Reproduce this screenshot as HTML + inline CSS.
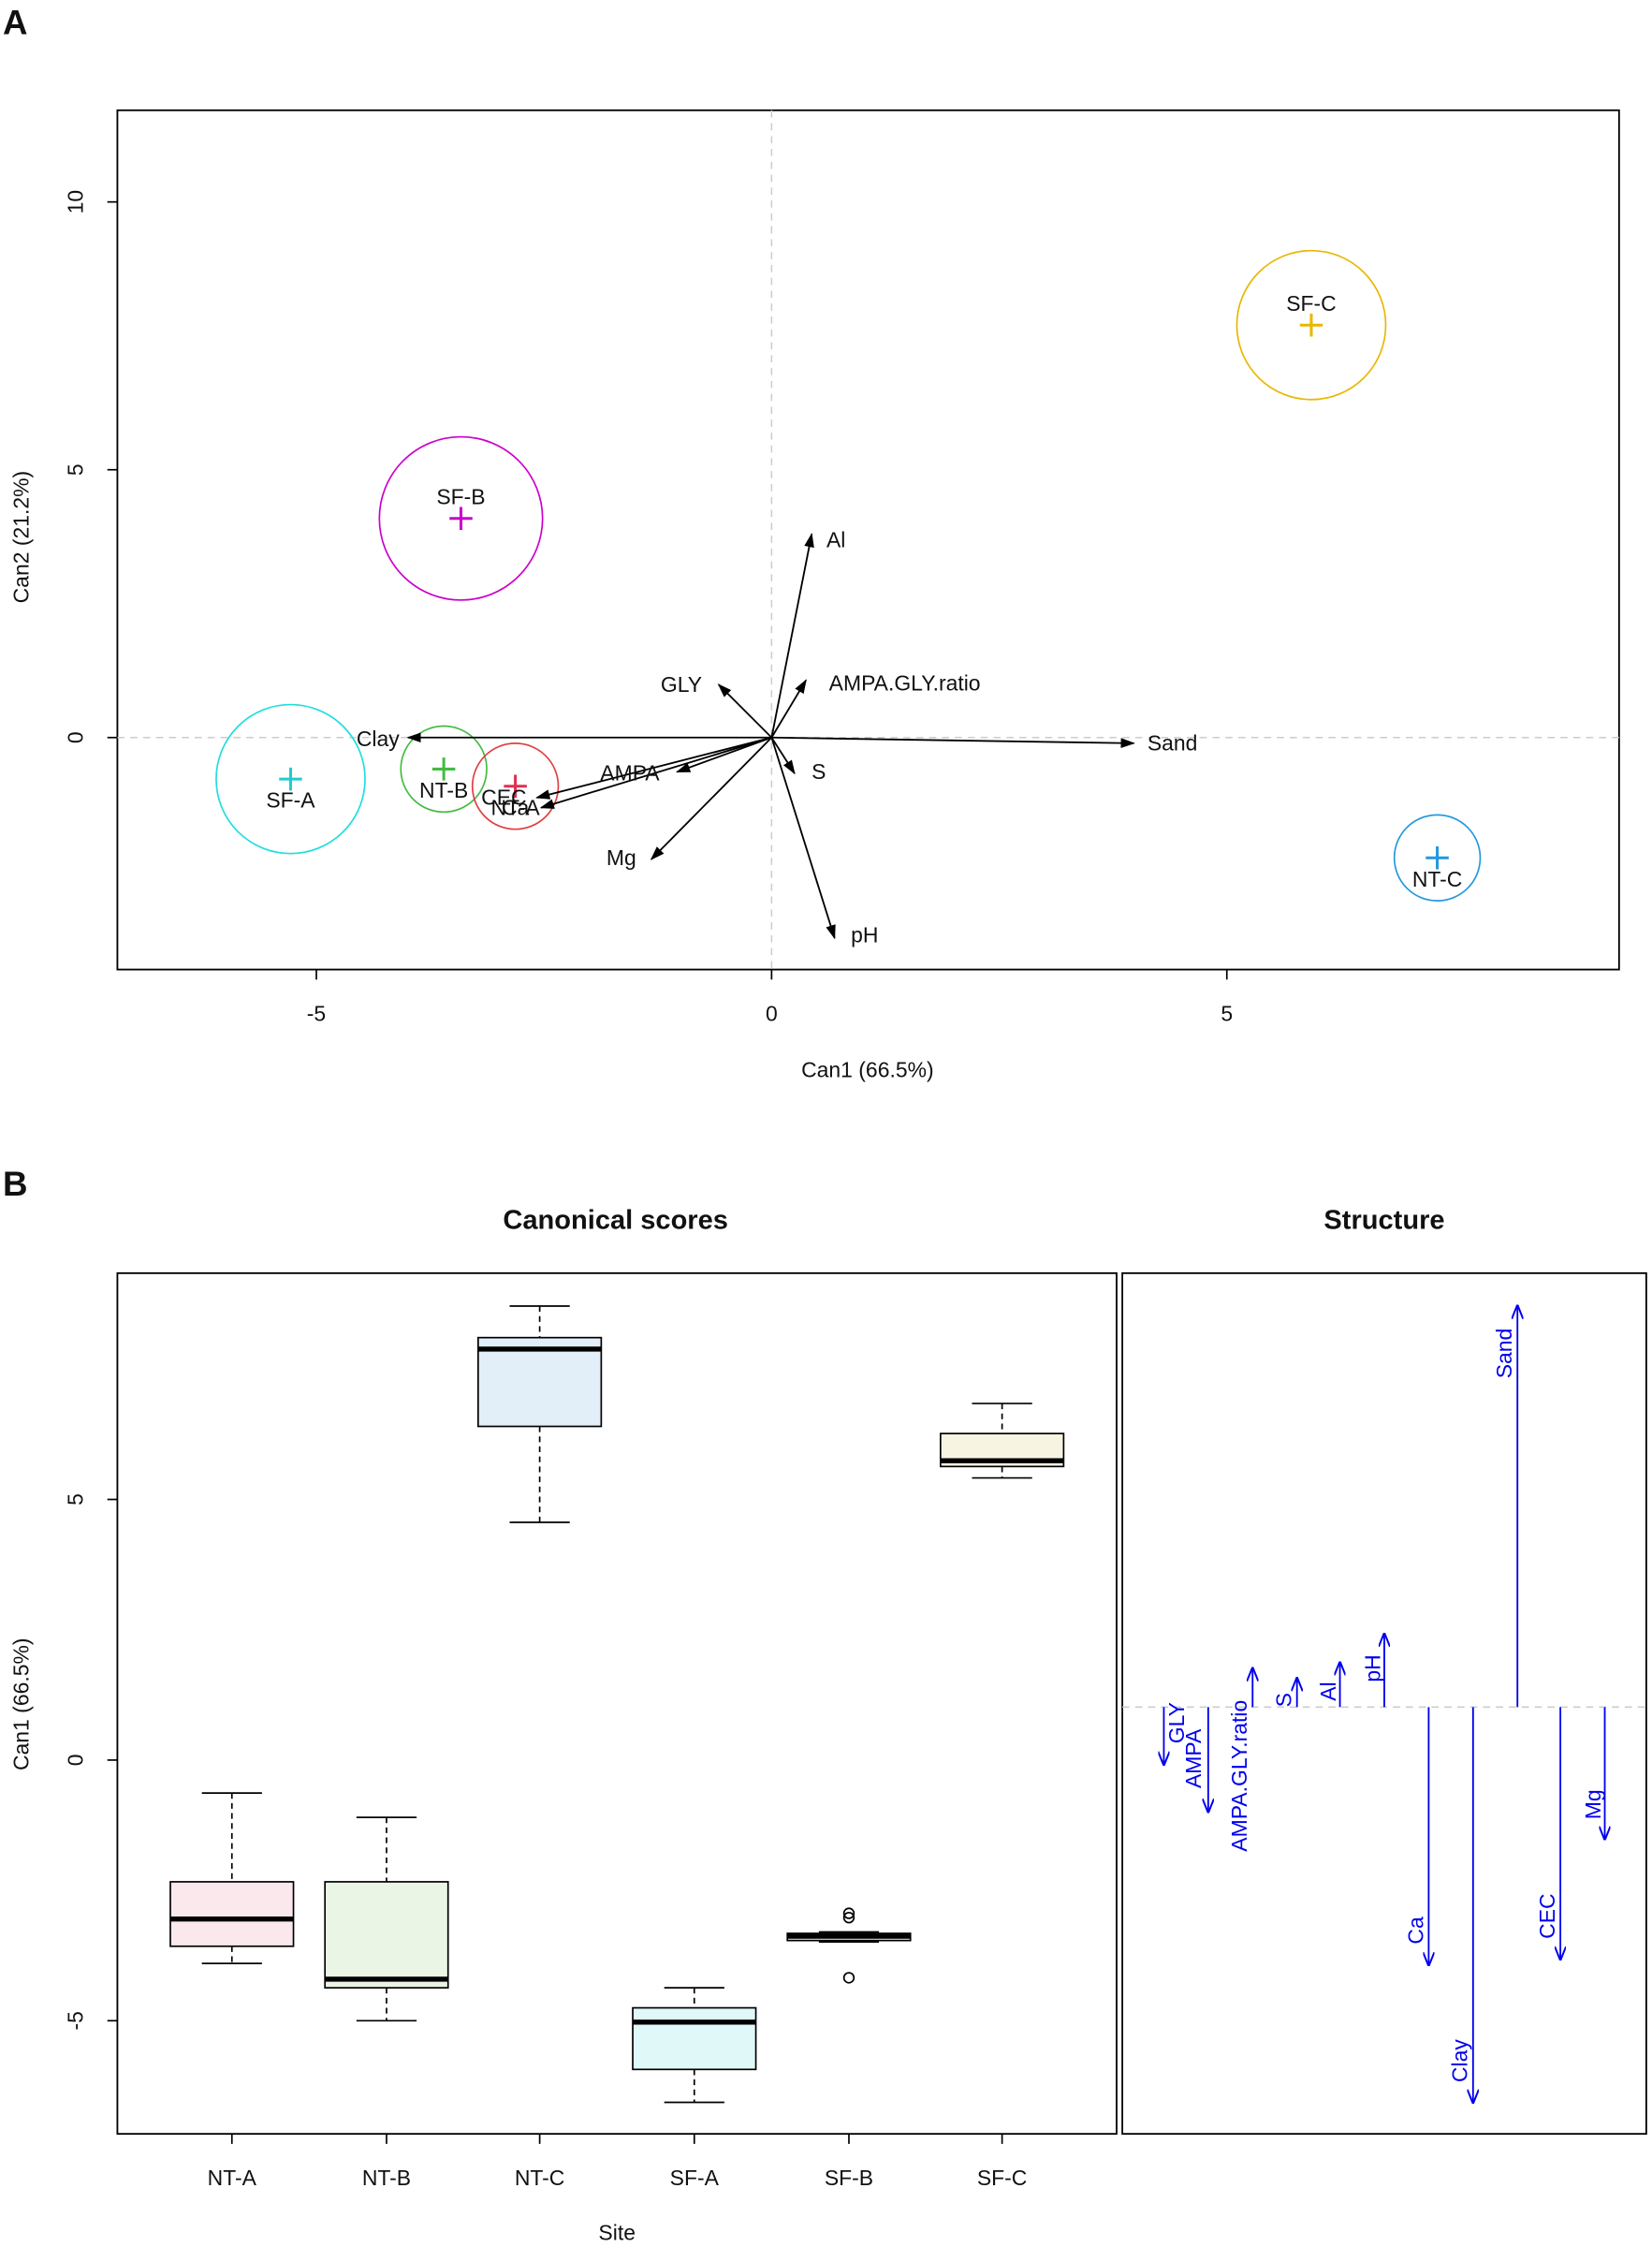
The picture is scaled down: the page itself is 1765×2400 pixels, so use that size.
<!DOCTYPE html>
<html><head><meta charset="utf-8"><style>
html,body{margin:0;padding:0;background:#fff;}
svg{display:block;}
text{font-family:"Liberation Sans",Arial,sans-serif;font-size:15px;fill:#111;}
.b text{fill:#0000ee;}
</style></head><body>
<svg width="1765" height="2400" viewBox="0 0 1154 1569" preserveAspectRatio="none" xmlns="http://www.w3.org/2000/svg">
<defs>
<marker id="ah" markerWidth="10" markerHeight="8" refX="9" refY="4" orient="auto" markerUnits="userSpaceOnUse"><path d="M0,0.5 L10,4 L0,7.5 Z" fill="#000"/></marker>
<marker id="bh" markerWidth="10" markerHeight="8" refX="9" refY="4" orient="auto" markerUnits="userSpaceOnUse"><path d="M0,0 L10,4 L0,8" fill="none" stroke="#0000ee" stroke-width="1.3"/></marker>
</defs>
<text x="2" y="24" style="font-size:24px;font-weight:bold">A</text>
<text x="2" y="835" style="font-size:24px;font-weight:bold">B</text>

<!-- Panel A -->
<rect x="82" y="77" width="1049" height="600" fill="none" stroke="#000" stroke-width="1.2"/>
<line x1="539" y1="77" x2="539" y2="677" stroke="#ccc" stroke-dasharray="5,4"/>
<line x1="82" y1="515" x2="1131" y2="515" stroke="#ccc" stroke-dasharray="5,4"/>
<g stroke="#000" stroke-width="1.1">
<line x1="221" y1="677" x2="221" y2="684"/><line x1="539" y1="677" x2="539" y2="684"/><line x1="857" y1="677" x2="857" y2="684"/>
<line x1="82" y1="515" x2="75" y2="515"/><line x1="82" y1="328" x2="75" y2="328"/><line x1="82" y1="141" x2="75" y2="141"/>
</g>
<text x="221" y="713" text-anchor="middle">-5</text><text x="539" y="713" text-anchor="middle">0</text><text x="857" y="713" text-anchor="middle">5</text>
<text transform="translate(58,515) rotate(-90)" text-anchor="middle">0</text>
<text transform="translate(58,328) rotate(-90)" text-anchor="middle">5</text>
<text transform="translate(58,141) rotate(-90)" text-anchor="middle">10</text>
<text x="606" y="752" text-anchor="middle">Can1 (66.5%)</text>
<text transform="translate(20,375) rotate(-90)" text-anchor="middle">Can2 (21.2%)</text>

<g fill="none" stroke-width="1.1">
<circle cx="916" cy="227" r="52" stroke="#E8B800"/>
<circle cx="322" cy="362" r="57" stroke="#CC00CC"/>
<circle cx="203" cy="544" r="52" stroke="#22DDDD"/>
<circle cx="310" cy="537" r="30" stroke="#44BB44"/>
<circle cx="360" cy="549" r="30" stroke="#E04040"/>
<circle cx="1004" cy="599" r="30" stroke="#2299DD"/>
</g>
<g stroke-width="2">
<path d="M908,227h16M916,219v16" stroke="#E8B800"/>
<path d="M314,362h16M322,354v16" stroke="#CC00CC"/>
<path d="M195,544h16M203,536v16" stroke="#22CCCC"/>
<path d="M302,537h16M310,529v16" stroke="#44BB44"/>
<path d="M352,549h16M360,541v16" stroke="#E03050"/>
<path d="M996,599h16M1004,591v16" stroke="#2299DD"/>
</g>
<text x="916" y="217" text-anchor="middle">SF-C</text>
<text x="322" y="352" text-anchor="middle">SF-B</text>
<text x="203" y="564" text-anchor="middle">SF-A</text>
<text x="310" y="557" text-anchor="middle">NT-B</text>
<text x="360" y="569" text-anchor="middle">NT-A</text>
<text x="1004" y="619" text-anchor="middle">NT-C</text>

<g stroke="#000" stroke-width="1.2" marker-end="url(#ah)">
<line x1="539" y1="515" x2="567" y2="373"/>
<line x1="539" y1="515" x2="563" y2="475"/>
<line x1="539" y1="515" x2="502" y2="478"/>
<line x1="539" y1="515" x2="285" y2="515"/>
<line x1="539" y1="515" x2="792" y2="519"/>
<line x1="539" y1="515" x2="555" y2="540"/>
<line x1="539" y1="515" x2="583" y2="655"/>
<line x1="539" y1="515" x2="455" y2="600"/>
<line x1="539" y1="515" x2="473" y2="539"/>
<line x1="539" y1="515" x2="375" y2="557"/>
<line x1="539" y1="515" x2="378" y2="564"/>
</g>
<text x="584" y="382" text-anchor="middle">Al</text>
<text x="632" y="482" text-anchor="middle">AMPA.GLY.ratio</text>
<text x="476" y="483" text-anchor="middle">GLY</text>
<text x="264" y="521" text-anchor="middle">Clay</text>
<text x="819" y="524" text-anchor="middle">Sand</text>
<text x="572" y="544" text-anchor="middle">S</text>
<text x="604" y="658" text-anchor="middle">pH</text>
<text x="434" y="604" text-anchor="middle">Mg</text>
<text x="440" y="545" text-anchor="middle">AMPA</text>
<text x="352" y="562" text-anchor="middle">CEC</text>
<text x="360" y="569" text-anchor="middle">Ca</text>

<!-- Panel B -->
<text x="430" y="858" text-anchor="middle" style="font-size:19px;font-weight:bold">Canonical scores</text>
<text x="967" y="858" text-anchor="middle" style="font-size:19px;font-weight:bold">Structure</text>
<rect x="82" y="889" width="698" height="601" fill="none" stroke="#000" stroke-width="1.2"/>
<rect x="784" y="889" width="366" height="601" fill="none" stroke="#000" stroke-width="1.2"/>
<g stroke="#000" stroke-width="1.1">
<line x1="82" y1="1047" x2="75" y2="1047"/><line x1="82" y1="1229" x2="75" y2="1229"/><line x1="82" y1="1411" x2="75" y2="1411"/>
<line x1="162" y1="1490" x2="162" y2="1497"/><line x1="270" y1="1490" x2="270" y2="1497"/><line x1="377" y1="1490" x2="377" y2="1497"/>
<line x1="485" y1="1490" x2="485" y2="1497"/><line x1="593" y1="1490" x2="593" y2="1497"/><line x1="700" y1="1490" x2="700" y2="1497"/>
</g>
<text transform="translate(58,1047) rotate(-90)" text-anchor="middle">5</text>
<text transform="translate(58,1229) rotate(-90)" text-anchor="middle">0</text>
<text transform="translate(58,1411) rotate(-90)" text-anchor="middle">-5</text>
<text transform="translate(20,1190) rotate(-90)" text-anchor="middle">Can1 (66.5%)</text>
<g text-anchor="middle">
<text x="162" y="1526">NT-A</text><text x="270" y="1526">NT-B</text><text x="377" y="1526">NT-C</text>
<text x="485" y="1526">SF-A</text><text x="593" y="1526">SF-B</text><text x="700" y="1526">SF-C</text>
<text x="431" y="1564">Site</text>
</g>
<g stroke="#000" stroke-width="1.1">
<g stroke-dasharray="4,3">
<line x1="162" y1="1252" x2="162" y2="1314"/><line x1="162" y1="1359" x2="162" y2="1371"/>
<line x1="270" y1="1269" x2="270" y2="1314"/><line x1="270" y1="1388" x2="270" y2="1411"/>
<line x1="377" y1="912" x2="377" y2="934"/><line x1="377" y1="996" x2="377" y2="1063"/>
<line x1="485" y1="1388" x2="485" y2="1402"/><line x1="485" y1="1445" x2="485" y2="1468"/>
<line x1="700" y1="980" x2="700" y2="1001"/><line x1="700" y1="1024" x2="700" y2="1032"/>
</g>
<path d="M141,1252h42M141,1371h42M249,1269h42M249,1411h42M356,912h42M356,1063h42M464,1388h42M464,1468h42M572,1349h42M572,1356h42M679,980h42M679,1032h42"/>
<rect x="119" y="1314" width="86" height="45" fill="#FBE8EC"/>
<rect x="227" y="1314" width="86" height="74" fill="#EBF5E6"/>
<rect x="334" y="934" width="86" height="62" fill="#E2EEF8"/>
<rect x="442" y="1402" width="86" height="43" fill="#E0F8F8"/>
<rect x="550" y="1350" width="86" height="5" fill="#EEE0F0"/>
<rect x="657" y="1001" width="86" height="23" fill="#F8F4E2"/>
<g stroke-width="3.5">
<line x1="119" y1="1340" x2="205" y2="1340"/><line x1="227" y1="1382" x2="313" y2="1382"/>
<line x1="334" y1="942" x2="420" y2="942"/><line x1="442" y1="1412" x2="528" y2="1412"/>
<line x1="550" y1="1352" x2="636" y2="1352"/><line x1="657" y1="1020" x2="743" y2="1020"/>
</g>
<g fill="none"><circle cx="593" cy="1336" r="3.5"/><circle cx="593" cy="1339" r="3.5"/><circle cx="593" cy="1381" r="3.5"/></g>
</g>

<line x1="784" y1="1192" x2="1150" y2="1192" stroke="#ccc" stroke-dasharray="5,4"/>
<g class="b">
<g stroke="#0000ee" stroke-width="1.2" marker-end="url(#bh)">
<line x1="813" y1="1192" x2="813" y2="1232"/>
<line x1="844" y1="1192" x2="844" y2="1265"/>
<line x1="875" y1="1192" x2="875" y2="1165"/>
<line x1="906" y1="1192" x2="906" y2="1172"/>
<line x1="936" y1="1192" x2="936" y2="1161"/>
<line x1="967" y1="1192" x2="967" y2="1141"/>
<line x1="1060" y1="1192" x2="1060" y2="912"/>
<line x1="998" y1="1192" x2="998" y2="1372"/>
<line x1="1029" y1="1192" x2="1029" y2="1468"/>
<line x1="1090" y1="1192" x2="1090" y2="1368"/>
<line x1="1121" y1="1192" x2="1121" y2="1284"/>
</g>
<text transform="translate(827,1203) rotate(-90)" text-anchor="middle">GLY</text>
<text transform="translate(839,1228) rotate(-90)" text-anchor="middle">AMPA</text>
<text transform="translate(871,1240) rotate(-90)" text-anchor="middle">AMPA.GLY.ratio</text>
<text transform="translate(902,1187) rotate(-90)" text-anchor="middle">S</text>
<text transform="translate(933,1181) rotate(-90)" text-anchor="middle">Al</text>
<text transform="translate(964,1165) rotate(-90)" text-anchor="middle">pH</text>
<text transform="translate(1056,945) rotate(-90)" text-anchor="middle">Sand</text>
<text transform="translate(994,1348) rotate(-90)" text-anchor="middle">Ca</text>
<text transform="translate(1025,1439) rotate(-90)" text-anchor="middle">Clay</text>
<text transform="translate(1086,1338) rotate(-90)" text-anchor="middle">CEC</text>
<text transform="translate(1118,1260) rotate(-90)" text-anchor="middle">Mg</text>
</g>
</svg>
</body></html>
